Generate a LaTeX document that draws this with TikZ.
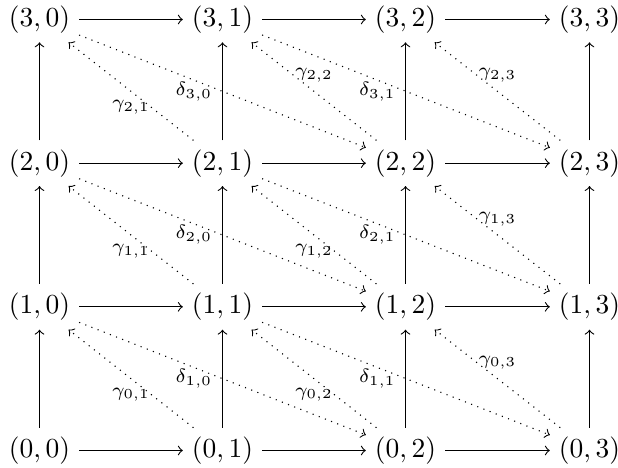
\documentclass[tikz,border=0pt]{standalone}
\usetikzlibrary{calc}
\begin{document}
\begin{tikzpicture}[x=0.3636pt,y=-0.3636pt,
  cell/.style={inner sep=3.1pt},
  arr/.style={->},
  dotarr/.style={->,dotted},
  glab/.style={inner sep=3.1pt},
  dlab/.style={inner sep=3.6pt}]
\useasboundingbox (0,0) rectangle (618,468);
\def\colx{{39.5,222.5,405.5,589.5}}
\def\rowy{{450.5,306.8,163.2,19.5}}
\foreach \i in {0,...,3}{
  \foreach \j in {0,...,3}{
    \pgfmathsetmacro{\xx}{\colx[\j]}
    \pgfmathsetmacro{\yy}{\rowy[\i]}
    \node[cell] (n\i\j) at (\xx,\yy) {$(\i,\j)$};
  }
}
\foreach \i in {0,...,3}{
  \foreach \j/\k in {0/1,1/2,2/3}{
    \draw[arr] (n\i\j) -- (n\i\k);
  }
}
\foreach \i/\k in {0/1,1/2,2/3}{
  \foreach \j in {0,...,3}{
    \draw[arr] (n\i\j) -- (n\k\j);
  }
}
% gamma arrows
\draw[dotarr] (n01) -- node[glab,midway,anchor=north] {$\scriptstyle\gamma_{0,1}$} (n10);
\draw[dotarr] (n11) -- node[glab,midway,anchor=north] {$\scriptstyle\gamma_{1,1}$} (n20);
\draw[dotarr] (n21) -- node[glab,midway,anchor=north] {$\scriptstyle\gamma_{2,1}$} (n30);
\draw[dotarr] (n02) -- node[glab,midway,anchor=north] {$\scriptstyle\gamma_{0,2}$} (n11);
\draw[dotarr] (n12) -- node[glab,midway,anchor=north] {$\scriptstyle\gamma_{1,2}$} (n21);
\draw[dotarr] (n22) -- node[glab,midway,anchor=south] {$\scriptstyle\gamma_{2,2}$} (n31);
\draw[dotarr] (n03) -- node[glab,midway,anchor=south] {$\scriptstyle\gamma_{0,3}$} (n12);
\draw[dotarr] (n13) -- node[glab,midway,anchor=south] {$\scriptstyle\gamma_{1,3}$} (n22);
\draw[dotarr] (n23) -- node[glab,midway,anchor=south] {$\scriptstyle\gamma_{2,3}$} (n32);
% delta arrows
\draw[dotarr] (n10) -- node[dlab,midway,anchor=east] {$\scriptstyle\delta_{1,0}$} (n02);
\draw[dotarr] (n20) -- node[dlab,midway,anchor=east] {$\scriptstyle\delta_{2,0}$} (n12);
\draw[dotarr] (n30) -- node[dlab,midway,anchor=east] {$\scriptstyle\delta_{3,0}$} (n22);
\draw[dotarr] (n11) -- node[dlab,midway,anchor=east] {$\scriptstyle\delta_{1,1}$} (n03);
\draw[dotarr] (n21) -- node[dlab,midway,anchor=east] {$\scriptstyle\delta_{2,1}$} (n13);
\draw[dotarr] (n31) -- node[dlab,midway,anchor=east] {$\scriptstyle\delta_{3,1}$} (n23);
\end{tikzpicture}
\end{document}
